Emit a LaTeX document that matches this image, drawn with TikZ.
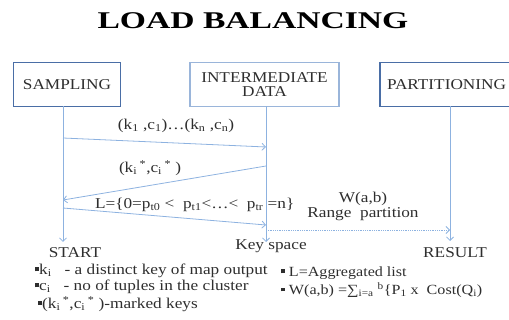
\documentclass[tikz,border=0pt]{standalone}
\usepackage{fontspec}
\setmainfont{Liberation Serif}[FakeStretch=1.15]
\newfontfamily\titlefont{Liberation Serif}[FakeStretch=1.4]
\usetikzlibrary{arrows.meta}
\definecolor{boxdark}{HTML}{4A6EA6}
\definecolor{boxlight}{HTML}{9AB5DA}
\definecolor{flow}{HTML}{8DB2E0}
\definecolor{ink}{HTML}{2E2E2E}
\newcommand{\sqb}{\raisebox{0.22em}{\rule{0.28em}{0.28em}}}
\tikzset{
  x=1pt, y=-1pt,
  every node/.style={inner sep=0pt, outer sep=0pt, text=ink, font=\fontsize{15}{17}\selectfont},
  actor/.style={draw, minimum height=44pt, align=center},
  lifeline/.style={draw=flow, line width=0.8pt, -{Straight Barb[length=3.5pt,width=7pt]}},
  msg/.style={draw=flow, line width=0.8pt, -{Straight Barb[length=3.5pt,width=7pt]}},
  dotmsg/.style={msg, densely dotted},
  note/.style={anchor=west, font=\fontsize{15}{17}\selectfont},
  smallnote/.style={anchor=west, font=\fontsize{14}{16}\selectfont}
}
\begin{document}
\begin{tikzpicture}
\useasboundingbox (0,0) rectangle (509,320);
% title
\node[text=black, font=\titlefont\bfseries\fontsize{24}{26}\selectfont] (title) at (253,21) {LOAD BALANCING};

% participants
\node[actor, draw=boxdark, line width=1.6pt, minimum width=107pt] (samp) at (67,84.5) {SAMPLING};
\node[actor, draw=boxlight, line width=1.1pt, minimum width=149pt] (inter) at (264.5,84.5) {INTERMEDIATE\\[-3pt]DATA};
% this box runs on past the right edge of the page
\node[actor, draw=boxdark, line width=1.6pt, inner xsep=7pt, text width=146pt, align=left] (part) at (460,84.5) {PARTITIONING};

% lifeline end points
\coordinate (sEnd) at (63,242);
\coordinate (iEnd) at (266,242);
\coordinate (pEnd) at (450,241);
\draw[lifeline] (samp.south -| sEnd) -- (sEnd);
\draw[lifeline] (inter.south -| iEnd) -- (iEnd);
\draw[lifeline] (part.south -| pEnd) -- (pEnd);

% message anchors on lifelines
\coordinate (s1) at (63,138);  \coordinate (i1) at (266,147);
\coordinate (i2) at (266,166); \coordinate (s2) at (63,200);
\coordinate (s3) at (63,208);  \coordinate (i3) at (266,225);
\coordinate (i4) at (266,230); \coordinate (p4) at (450,230);

\draw[msg] (s1) -- (i1);
\draw[msg] (i2) -- (s2);
\draw[msg] (s3) -- (i3);
\draw[dotmsg] (i4) -- (p4);

% message labels
\node (l1) at (176,126) {(k\textsubscript{1} ,c\textsubscript{1})\ldots(k\textsubscript{n} ,c\textsubscript{n})};
\node[anchor=west] (l2) at (119,168) {(k\textsubscript{i}\,\textsuperscript{*},c\textsubscript{i}\,\textsuperscript{*}\ )};
\node[anchor=west] (l3) at (95,205) {L=\{0=p\textsubscript{t0} < \ p\textsubscript{t1}<\ldots< \ p\textsubscript{tr} =n\}};
\node (l4) at (363,199) {W(a,b)};
\node (l5) at (363,214) {Range \ partition};

% lifeline end labels
\node (start) at (75,253) {START};
\node (keys) at (271,246) {Key space};
\node (result) at (455,253) {RESULT};

% legend
\node[note] (n1) at (35,271) {\sqb k\textsubscript{i} \ \ - a distinct key of map output};
\node[note] (n2) at (35,287) {\sqb c\textsubscript{i} \ \ - no of tuples in the cluster};
\node[note] (n3) at (38,304) {\sqb(k\textsubscript{i}\,\textsuperscript{*},c\textsubscript{i}\,\textsuperscript{*}\ )-marked keys};
\node[smallnote] (n4) at (281,273) {\sqb\ L=Aggregated list};
\node[smallnote] (n5) at (281,290) {\sqb\ W(a,b) =∑\textsubscript{i=a}\ \textsuperscript{b}\{P\textsubscript{1} x \ Cost(Q\textsubscript{i})};
\end{tikzpicture}
\end{document}
